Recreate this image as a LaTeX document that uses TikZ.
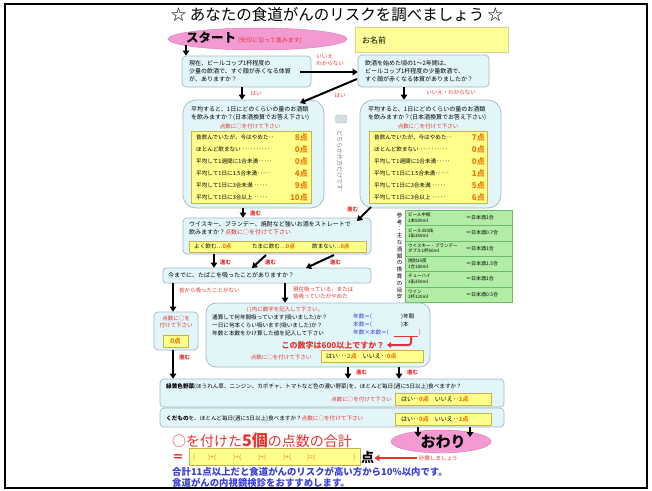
\documentclass[tikz,border=0pt]{standalone}
\usepackage{fontspec}
\setmainfont{Noto Sans CJK JP}
\usetikzlibrary{arrows.meta,shapes.geometric}
\definecolor{cy}{HTML}{E2F6FA}
\definecolor{cyb}{HTML}{9FB9C3}
\definecolor{yl}{HTML}{FFFF8C}
\definecolor{ylb}{HTML}{C8B24A}
\definecolor{rd}{HTML}{E8322A}
\definecolor{og}{HTML}{F07800}
\definecolor{bl}{HTML}{3A3FD8}
\definecolor{pk}{HTML}{F49AD2}
\definecolor{pkb}{HTML}{D878B4}
\definecolor{gr}{HTML}{B2EDA6}
\definecolor{grb}{HTML}{6DB86A}
\definecolor{nm}{HTML}{FFFF99}
\begin{document}
\begin{tikzpicture}[x=1pt,y=-1pt,
 box/.style={draw=cyb,fill=cy,rounded corners=4pt,line width=0.7pt,inner sep=0},
 ybox/.style={draw=ylb,fill=yl,line width=0.7pt,inner sep=0},
 arr/.style={line width=2pt,-{Triangle[length=5pt,width=6.5pt]}},
 tx/.style={inner sep=0,anchor=west,align=left,font=\fontsize{6}{8}\selectfont},
 lb/.style={inner sep=0,text=rd,align=left,font=\fontsize{5.5}{7}\selectfont},
 go/.style={inner sep=0,anchor=west,text=rd,font=\bfseries\fontsize{5.5}{6}\selectfont},
 sc/.style={inner sep=0,anchor=east,text=og,font=\bfseries\fontsize{8}{8}\selectfont},
]
\useasboundingbox (0,0) rectangle (652,490);
\draw[line width=1.5pt] (5,4) rectangle (647,488);

% title
\node[inner sep=0,font=\fontsize{15.5}{16}\selectfont] (title) at (337,15) {☆ あなたの食道がんのリスクを調べましょう ☆};

% start / name
\node[ellipse,draw=pkb,fill=pk,minimum width=179pt,minimum height=22pt,inner sep=0] (start) at (257.5,39) {};
\node[inner sep=0,anchor=west,font=\bfseries\fontsize{12.5}{12.5}\selectfont] (startt) at (186,38) {スタート};
\node[lb,anchor=west,font=\fontsize{6}{6}\selectfont] (startn) at (238,41) {(矢印に沿って進みます)};
\node[draw=ylb!60,fill=nm,minimum width=153pt,minimum height=25pt,inner sep=0] (name) at (431.5,39.5) {};
\node[tx,font=\fontsize{8}{8}\selectfont] (namet) at (362,40) {お名前};

% Q1 Q2
\node[box,minimum width=129pt,minimum height=31pt] (q1) at (246.5,71.5) {};
\node[tx] (q1t) at (189,71.5) {現在、ビールコップ1杯程度の\\少量の飲酒で、すぐ顔が赤くなる体質\\が、ありますか？};
\node[box,minimum width=131pt,minimum height=32pt] (q2) at (423.5,71) {};
\node[tx] (q2t) at (365,71) {飲酒を始めた頃の1～2年間は、\\ビールコップ1杯程度の少量飲酒で、\\すぐ顔が赤くなる体質がありましたか？};

% big boxes
\node[box,rounded corners=13pt,minimum width=141pt,minimum height=108pt] (bigL) at (253.5,154) {};
\node[box,rounded corners=13pt,minimum width=141pt,minimum height=108pt] (bigR) at (430.5,154) {};
\node[ybox,minimum width=120pt,minimum height=72pt] (yelL) at (251,167) {};
\node[ybox,minimum width=118pt,minimum height=72pt] (yelR) at (428,167) {};
\node[tx] (bLt) at (191,114) {平均すると、1日にどのくらいの量のお酒類\\を飲みますか？(日本酒換算でお答え下さい)};
\node[tx] (bRt) at (368,114) {平均すると、1日にどのくらいの量のお酒類\\を飲みますか？(日本酒換算でお答え下さい)};
\node[lb] (bLr) at (250,126) {点数に○を付けて下さい};
\node[lb] (bRr) at (428,126) {点数に○を付けて下さい};
\foreach \yy/\rt/\ptl/\ptr in {137/昔飲んでいたが、今はやめた･･/8/7,
  149/ほとんど飲まない ･･････････/0/0,
  161/平均して1週間に1合未満･････/0/0,
  173/平均して1日に1.5合未満･････/4/1,
  185/平均して1日に3合未満 ･････/9/5,
  197/平均して1日に3合以上 ･････/10/6}{
  \node[tx,font=\fontsize{5.6}{6}\selectfont] (rl\yy) at (196,\yy) {\rt};
  \node[sc] (sl\yy) at (308,\yy) {\ptl 点};
  \node[tx,font=\fontsize{5.6}{6}\selectfont] (rr\yy) at (374,\yy) {\rt};
  \node[sc] (sr\yy) at (485,\yy) {\ptr 点};
}

% either-one note
\node[draw=cyb,fill=cyb!45,rounded corners=1.5pt,minimum width=11pt,minimum height=8pt,inner sep=0] (icon) at (341,119) {};
\node[inner sep=0,text=gray,rotate=-90,font=\fontsize{6}{6}\selectfont] (either) at (340,160) {どちらか片方だけです};

% arrows top
\coordinate (a0) at (186,45);
\draw[arr] (a0) -- (a0 |- q1.north);
\coordinate (a1) at (300,72);
\draw[arr,line width=2.8pt] (a1) -- (q2.west |- a1);
\node[lb] (l1) at (330,60) {いいえ\\わからない};
\coordinate (a2) at (242,87);
\draw[arr] (a2) -- (a2 |- bigL.north);
\node[lb] (l2) at (256,93) {はい};
\coordinate (a3s) at (357,79);
\coordinate (a3e) at (300,103);
\draw[arr] (a3s) -- (a3e);
\node[lb] (l3) at (340,95) {はい};
\coordinate (a4) at (404,87);
\draw[arr] (a4) -- (a4 |- bigR.north);
\node[lb] (l4) at (451,92) {いいえ・わからない};

% green table
\foreach \i/\na/\nb/\va in {0/ビール中瓶/1本500ml/＝日本酒1合,
  1/ビール350缶/1缶350ml/＝日本酒0.7合,
  2/ウイスキー・ブランデー/ダブル1杯60ml/＝日本酒1合,
  3/焼酎25度/1合180ml/＝日本酒1.5合,
  4/チューハイ/1缶350ml/＝日本酒1合,
  5/ワイン/1杯120ml/＝日本酒0.5合}{
  \pgfmathsetmacro\yt{210+\i*15.33}
  \node[draw=grb,fill=gr,minimum width=107pt,minimum height=15.33pt,inner sep=0,anchor=north west] (g\i) at (405,\yt) {};
  \node[tx,font=\fontsize{4.5}{5.5}\selectfont] (gn\i) at (408,\yt+7.7) {\na\\\nb};
  \node[tx,font=\fontsize{5}{5}\selectfont] (gv\i) at (466,\yt+7.7) {\va};
}
\node[inner sep=0,align=center,font=\fontsize{5.5}{6.8}\selectfont] (glab) at (399.5,256) {参\\考\\：\\主\\な\\酒\\類\\の\\換\\算\\の\\目\\安};

% Q3
\node[box,minimum width=188pt,minimum height=36pt] (q3) at (277,236) {};
\node[tx] (q3t) at (189,228.5) {ウイスキー、ブランデー、焼酎など強いお酒をストレートで\\飲みますか？\textcolor{rd}{点数に○を付けて下さい}};
\node[ybox,minimum width=177pt,minimum height=11pt] (q3y) at (277.5,246.5) {};
\node[tx,font=\fontsize{5.6}{6}\selectfont] (q3a) at (194,246.5) {よく飲む…\textcolor{og}{\bfseries 0点}};
\node[tx,font=\fontsize{5.6}{6}\selectfont] (q3b) at (252,246.5) {たまに飲む…\textcolor{og}{\bfseries 0点}};
\node[tx,font=\fontsize{5.6}{6}\selectfont] (q3c) at (312,246.5) {飲まない…\textcolor{og}{\bfseries 0点}};
\coordinate (a5) at (243,208);
\draw[arr] (a5) -- (a5 |- q3.north);
\node[go] (l5) at (250,213) {進む};
\coordinate (a6s) at (371,207);
\coordinate (a6e) at (357,221);
\draw[arr] (a6s) -- (a6e);
\node[go] (l6) at (347,209) {進む};

% Q4
\node[box,minimum width=208pt,minimum height=15pt,rounded corners=3pt] (q4) at (267,275.5) {};
\node[tx] (q4t) at (168,275.5) {今までに、たばこを吸ったことがありますか？};
\coordinate (a7) at (214,254);
\draw[arr] (a7) -- (a7 |- q4.north);
\node[go] (l7) at (220,262) {進む};
\coordinate (a8s) at (266,255);
\coordinate (a8e) at (252,268);
\draw[arr] (a8s) -- (a8e);
\node[go] (l8) at (265,262) {進む};
\coordinate (a9s) at (334,255);
\coordinate (a9e) at (306,268);
\draw[arr] (a9s) -- (a9e);
\node[go] (l9) at (330,262) {進む};

% left small box
\node[box,minimum width=44pt,minimum height=38pt] (sbox) at (176,331) {};
\node[lb,align=center] (sboxt) at (176,322) {点数に○を\\付けて下さい};
\node[ybox,minimum width=25pt,minimum height=12pt] (sboxy) at (175.5,341) {};
\node[inner sep=0,text=og,font=\bfseries\fontsize{6.5}{7}\selectfont] (sboxs) at (175.5,341) {0点};
\coordinate (a10) at (173,283);
\draw[arr] (a10) -- (a10 |- sbox.north);
\node[lb,anchor=west] (l10) at (179,290) {昔から吸ったことがない};
\coordinate (a11) at (173,350);
\node[go] (l11) at (179,357) {進む};

% middle box
\node[box,rounded corners=10pt,minimum width=224pt,minimum height=64pt] (mid) at (318,335) {};
\coordinate (a12) at (285,283);
\draw[arr] (a12) -- (a12 |- mid.north);
\node[lb,anchor=west] (l12) at (293,292.5) {現在吸っている、または\\昔吸っていたがやめた};
\node[lb] (midh) at (285,309.5) {( )内に数字を記入して下さい。};
\node[tx,font=\fontsize{5.6}{8}\selectfont] (midt) at (212,325) {通算して何年間吸っています(吸いました)か？\\一日に何本くらい吸います(吸いました)か？\\年数と本数をかけ算した値を記入して下さい};
\node[tx,font=\fontsize{5.6}{8}\selectfont,text=bl] (midb) at (353,325) {年数＝(\\本数＝(\\年数×本数＝(};
\node[tx,font=\fontsize{5.6}{8}\selectfont] (midc) at (401,321) {)年間\\)本};
\node[inner sep=0,text=rd,font=\fontsize{6}{6}\selectfont] (midd) at (420,333) {)};
\draw[rd,line width=0.8pt] (394,336) -- (418,336);
\node[inner sep=0,text=rd,font=\bfseries\fontsize{8}{8}\selectfont] (q600) at (333,345) {この数字は600以上ですか？};
\coordinate (rh1) at (411,337);
\coordinate (rh2) at (387,345);
\draw[rd,line width=2pt,rounded corners=2.5pt,-{Triangle[length=4pt,width=5.5pt]}] (rh1) |- (rh2);
\node[lb] (midr) at (281,357) {点数に○を付けて下さい};
\node[ybox,minimum width=102pt,minimum height=12pt] (midy) at (372,356) {};
\node[tx,font=\fontsize{6}{6}\selectfont] (midy1) at (326,356) {はい･･･\textcolor{og}{\bfseries 2点}　いいえ･･\textcolor{og}{\bfseries 0点}};

% Q5 Q6
\node[box,minimum width=344pt,minimum height=28pt] (q5) at (332,393) {};
\node[tx,font=\fontsize{5.6}{6}\selectfont] (q5t) at (166,386.5) {\textbf{緑黄色野菜}(ほうれん草、ニンジン、カボチャ、トマトなど色の濃い野菜)を、ほとんど毎日(週に5日以上)食べますか？};
\node[lb,anchor=east] (q5r) at (392,399.5) {点数に○を付けて下さい};
\node[ybox,minimum width=96pt,minimum height=12pt] (q5y) at (443,399) {};
\node[tx] (q5a) at (401,399) {はい･･\textcolor{og}{\bfseries 0点}　いいえ･･\textcolor{og}{\bfseries 1点}};
\node[box,minimum width=344pt,minimum height=19pt] (q6) at (332,417.5) {};
\node[tx,font=\fontsize{5.6}{6}\selectfont] (q6t) at (166,418.5) {\textbf{くだもの}を、ほとんど毎日(週に5日以上)食べますか？\textcolor{rd}{点数に○を付けて下さい}};
\node[ybox,minimum width=96pt,minimum height=12pt] (q6y) at (443,419) {};
\node[tx] (q6a) at (401,419) {はい･･\textcolor{og}{\bfseries 0点}　いいえ･･\textcolor{og}{\bfseries 1点}};
\draw[arr] (a11) -- (a11 |- q5.north);
\coordinate (a13) at (348,367);
\draw[arr] (a13) -- (a13 |- q5.north);
\node[go] (l13) at (356,372.5) {進む};
\coordinate (a14) at (399,367);
\draw[arr] (a14) -- (a14 |- q5.north);
\node[go] (l14) at (407,372.5) {進む};

% end
\node[ellipse,draw=pkb,fill=pk,minimum width=100pt,minimum height=23pt,inner sep=0] (endn) at (441,441.5) {};
\node[inner sep=0,font=\bfseries\fontsize{15}{15}\selectfont] (endt) at (443,442) {おわり};
\coordinate (a15) at (418,427);
\draw[arr] (a15) -- (418,437);
\coordinate (a16) at (470,427);
\draw[arr] (a16) -- (470,437);

% sum
\node[inner sep=0,anchor=west,text=rd,font=\fontsize{14}{14}\selectfont] (sumt) at (172,440) {○を付けた\textbf{\fontsize{16}{16}\selectfont 5個}の点数の合計};
\node[inner sep=0,anchor=west,text=rd,font=\bfseries\fontsize{12}{12}\selectfont] (eq) at (172,458) {＝};
\node[ybox,minimum width=171pt,minimum height=17pt] (sumy) at (274.5,456.5) {};
\foreach \xx/\ss in {193/(,208/)+(,233/)+(,258/)+(,283/)+(,307/)=(,353/)}{
  \node[inner sep=0,anchor=west,text=og,font=\fontsize{6.5}{7}\selectfont] (p\xx) at (\xx,457) {\ss};
}
\node[inner sep=0,anchor=west,font=\bfseries\fontsize{13}{13}\selectfont] (ten) at (361,458) {点};
\coordinate (a17) at (417,458);
\draw[rd,line width=2.2pt,-{Triangle[length=5pt,width=6.5pt]}] (a17) -- (ten.east);
\node[lb,anchor=west] (calc) at (419,458) {計算しましょう};
\node[inner sep=0,anchor=west,align=left,text=bl,font=\bfseries\fontsize{9.4}{11}\selectfont] (note) at (172,477.5) {合計11点以上だと食道がんのリスクが高い方から10\%以内です。\\食道がんの内視鏡検診をおすすめします。};
\end{tikzpicture}
\end{document}
